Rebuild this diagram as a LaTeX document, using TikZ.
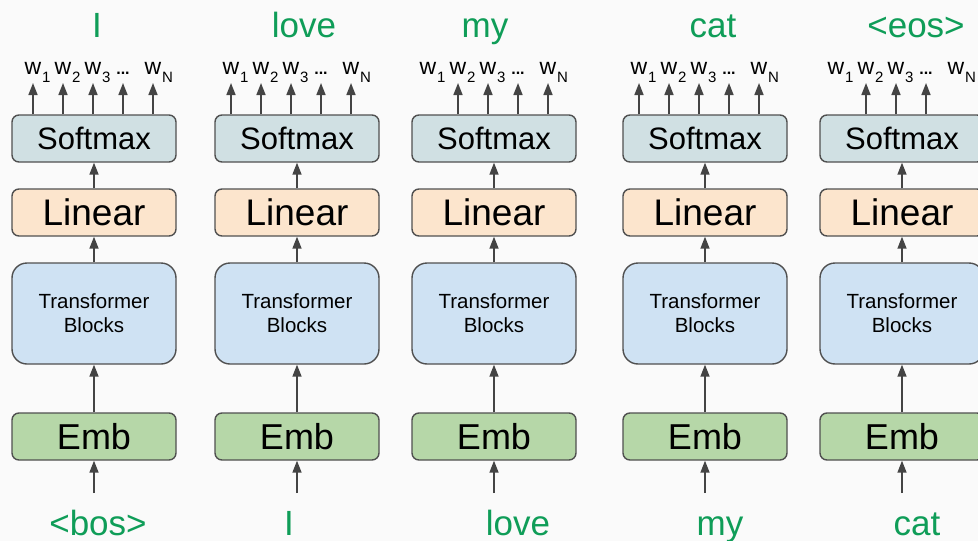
\documentclass[tikz,border=0pt]{standalone}
\usepackage{fontspec}
\setmainfont{Liberation Sans}
\usetikzlibrary{arrows.meta}
\definecolor{bg}{RGB}{250,250,250}
\definecolor{smfill}{RGB}{208,224,227}
\definecolor{linfill}{RGB}{252,229,205}
\definecolor{tbfill}{RGB}{207,226,243}
\definecolor{embfill}{RGB}{182,215,168}
\definecolor{edge}{RGB}{80,80,80}
\definecolor{arrowc}{RGB}{68,68,68}
\definecolor{gtext}{RGB}{15,157,88}
\begin{document}
\begin{tikzpicture}[x=1pt,y=-1pt,
  box/.style={draw=edge, line width=1.4pt, rounded corners=7pt, minimum width=164pt, inner sep=0pt, align=center},
  smbox/.style={box, fill=smfill, minimum height=47pt, font=\fontsize{31}{31}\selectfont},
  linbox/.style={box, fill=linfill, minimum height=47pt, font=\fontsize{37}{37}\selectfont},
  tbbox/.style={box, fill=tbfill, minimum height=101pt, rounded corners=15pt, font=\fontsize{20.5}{24}\selectfont},
  embbox/.style={box, fill=embfill, minimum height=47pt, font=\fontsize{36}{36}\selectfont},
  arr/.style={draw=arrowc, line width=1.6pt, -{Triangle[length=12pt,width=9pt]}},
  glab/.style={text=gtext, inner sep=0pt, font=\fontsize{35}{35}\selectfont},
  wl/.style={inner sep=0pt, font=\fontsize{23}{23}\selectfont},
  subl/.style={inner sep=0pt, font=\fontsize{15}{15}\selectfont},
  dotl/.style={inner sep=0pt, font=\fontsize{16}{16}\bfseries}
]
\useasboundingbox (0,0) rectangle (978,541);
\clip (0,0) rectangle (978,541);
\fill[bg] (0,0) rectangle (978,541);
\foreach \c/\cx/\s/\first/\last/\tx/\toptext/\bx/\bottext in
  {1/94/5/1/5/97/I/98/{<bos>},
   2/297/0/1/5/304/love/289/I,
   3/494/0/2/5/485/my/518/love,
   4/705/0/1/5/713/cat/720/my,
   5/902/0/2/4/916/{<eos>}/917/cat}{
  \node[smbox] (sm\c) at (\cx,138.5) {Softmax};
  \node[linbox] (lin\c) at (\cx,212.5) {Linear};
  \node[tbbox] (tb\c) at (\cx,313.5) {Transformer\\Blocks};
  \node[embbox] (emb\c) at (\cx,436.5) {Emb};
  \draw[arr] (emb\c.north) -- (tb\c.south);
  \draw[arr] (tb\c.north) -- (lin\c.south);
  \draw[arr] (lin\c.north) -- (sm\c.south);
  \coordinate (in\c) at (\cx,493);
  \draw[arr] (in\c) -- (emb\c.south);
  \node[glab, anchor=base] (top\c) at (\tx,37) {\toptext};
  \node[glab, anchor=base] (bot\c) at (\bx,535) {\bottext};
  \foreach \i/\o in {1/-66,2/-36,3/-6,4/24,5/54}{
    \coordinate (a\c-\i) at (\cx+\s+\o,83);
  }
  \foreach \i/\o/\sb in {1/-66/1,2/-36/2,3/-6/3,5/54/N}{
    \node[wl, anchor=base] (w\c-\i) at (\cx+\s+\o,74) {w};
    \node[subl, anchor=base west] (s\c-\i) at ([xshift=0.5pt,yshift=-8pt]w\c-\i.base east) {\sb};
  }
  \node[dotl, anchor=base] (d\c) at (\cx+\s+24,74) {...};
  \foreach \i in {\first,...,\last}{
    \draw[arr] (sm\c.north -| a\c-\i) -- (a\c-\i);
  }
}
\end{tikzpicture}
\end{document}
